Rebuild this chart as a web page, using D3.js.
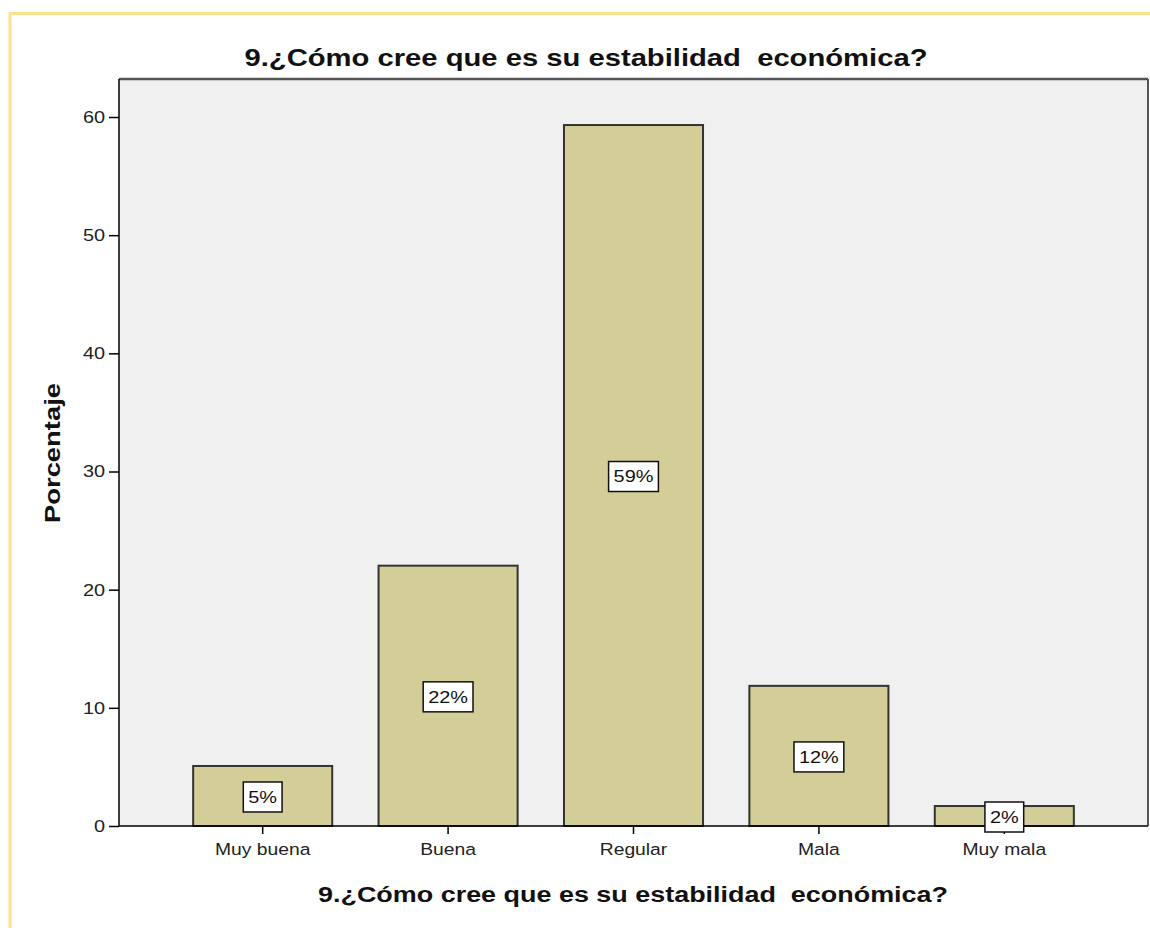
<!DOCTYPE html>
<html><head><meta charset="utf-8">
<script src="https://cdn.jsdelivr.net/npm/d3@7"></script>
<style>html,body{margin:0;padding:0;background:#fff;}svg{display:block;font-family:Arial,"Liberation Sans",sans-serif;}</style>
</head><body>
<svg id="c" width="1150" height="928"></svg>
<script>
const categories = ["Muy buena","Buena","Regular","Mala","Muy mala"];
const values = [5.08, 22.03, 59.32, 11.86, 1.69];
const labels = ["5%","22%","59%","12%","2%"];
const yTicks = [0,10,20,30,40,50,60];
const title = "9.¿Cómo cree que es su estabilidad  económica?";
const xTitle = "9.¿Cómo cree que es su estabilidad  económica?";
const yTitle = "Porcentaje";

const SX = 1.17; // horizontal stretch of the reference glyphs
const svg = d3.select("#c");
svg.append("path").attr("d","M10,928 V13.5 H1150").attr("fill","none").attr("stroke","#fbe28a").attr("stroke-width",3);

const L=119, T=79, R=1148, B=826;
const x = d3.scaleBand().domain(categories).range([L,R]).paddingInner(0.25).paddingOuter(0.4);
const y = d3.scaleLinear().domain([0,60]).range([B,117]);

svg.append("rect").attr("x",L).attr("y",T).attr("width",R-L).attr("height",B-T).attr("fill","#f0f0f0");
svg.append("line").attr("x1",L).attr("x2",R).attr("y1",T).attr("y2",T).attr("stroke","#555").attr("stroke-width",2.5);
svg.append("line").attr("x1",R).attr("x2",R).attr("y1",T).attr("y2",B).attr("stroke","#555").attr("stroke-width",2);

svg.selectAll("rect.bar").data(values).join("rect").attr("class","bar")
  .attr("x",(d,i)=>x(categories[i])).attr("width",x.bandwidth())
  .attr("y",d=>y(d)).attr("height",d=>B-y(d))
  .attr("fill","#d3ce97").attr("stroke","#333").attr("stroke-width",2);

function stretchText(sel){
  sel.each(function(){
    const t=d3.select(this);
    const tx=+t.attr("x")||0, ty=+t.attr("y")||0;
    const prev=t.attr("transform")||"";
    t.attr("transform",`${prev} translate(${tx},${ty}) scale(${SX},1) translate(${-tx},${-ty})`);
  });
}

// y axis
const ya = svg.append("g").attr("transform",`translate(${L},0)`).call(d3.axisLeft(y).tickValues(yTicks).tickSize(10).tickSizeOuter(0).tickPadding(4));
ya.select(".domain").remove();
ya.selectAll("line").attr("stroke","#000").attr("stroke-width",1.5);
ya.selectAll("text").attr("font-size",17).attr("fill","#222").attr("font-family","Arial,'Liberation Sans',sans-serif").call(stretchText);
svg.append("line").attr("x1",L).attr("x2",L).attr("y1",T).attr("y2",B).attr("stroke","#000").attr("stroke-width",1.5);

// x axis
const xa = svg.append("g").attr("transform",`translate(0,${B})`).call(d3.axisBottom(x).tickSize(8).tickSizeOuter(0).tickPadding(9));
xa.select(".domain").remove();
xa.selectAll("line").attr("stroke","#000").attr("stroke-width",1.5);
xa.selectAll("text").attr("font-size",16.5).attr("fill","#222").attr("font-family","Arial,'Liberation Sans',sans-serif").call(stretchText);
svg.append("line").attr("x1",L).attr("x2",R).attr("y1",B).attr("y2",B).attr("stroke","#000").attr("stroke-width",1.5);

// value labels
const lg = svg.append("g");
values.forEach((v,i)=>{
  const cx = x(categories[i]) + x.bandwidth()/2;
  const cy = (y(v)+B)/2 + 1;
  const t = lg.append("text").attr("x",cx).attr("y",cy).attr("text-anchor","middle").attr("dominant-baseline","central")
    .attr("font-size",17).attr("fill","#111").text(labels[i]);
  const w = t.node().getComputedTextLength()*SX;
  t.call(stretchText);
  lg.insert("rect","text").attr("x",cx-w/2-5).attr("y",cy-15).attr("width",w+10).attr("height",30)
    .attr("fill","#fff").attr("stroke","#111").attr("stroke-width",1.5);
});

function fitText(t, target){
  t.attr("textLength",target).attr("lengthAdjust","spacingAndGlyphs");
}
const tt = svg.append("text").attr("x",586).attr("y",66).attr("text-anchor","middle").attr("font-size",24).attr("font-weight","bold").attr("fill","#111").style("white-space","pre").text(title);
fitText(tt,683);
const xt = svg.append("text").attr("x",633).attr("y",902).attr("text-anchor","middle").attr("font-size",22).attr("font-weight","bold").attr("fill","#111").style("white-space","pre").text(xTitle);
fitText(xt,630);
const yt = svg.append("text").attr("transform","translate(60,453) rotate(-90)").attr("text-anchor","middle").attr("font-size",22).attr("font-weight","bold").attr("fill","#111").text(yTitle);
fitText(yt,140);
</script>
</body></html>
